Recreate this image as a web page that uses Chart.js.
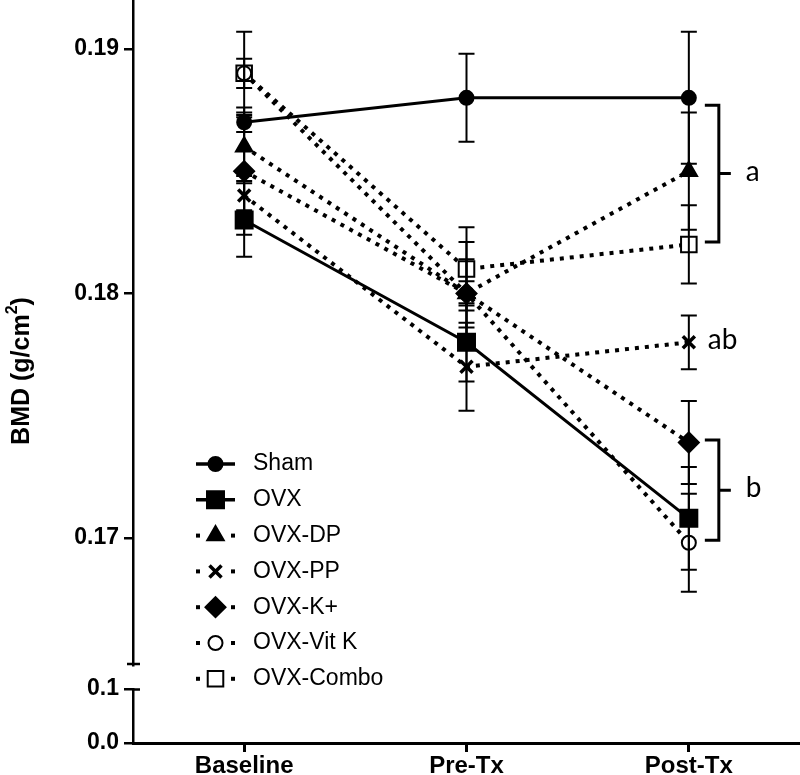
<!DOCTYPE html>
<html><head><meta charset="utf-8">
<script src="https://cdn.jsdelivr.net/npm/chart.js@4.4.1/dist/chart.umd.min.js"></script>
<style>html,body{margin:0;padding:0;background:#fff;}canvas{display:block;}</style>
</head><body>
<canvas id="c" width="800" height="775"></canvas>
<script>
// ---- data ----
const categories = ['Baseline', 'Pre-Tx', 'Post-Tx'];
const seriesNames = ['Sham', 'OVX', 'OVX-DP', 'OVX-PP', 'OVX-K+', 'OVX-Vit K', 'OVX-Combo'];
const shamValues  = [0.187, 0.188, 0.188];   const shamErrors  = [0.0004, 0.0018, 0.0027];
const ovxValues   = [0.183, 0.178, 0.1708];  const ovxErrors   = [0.0015, 0.0016, 0.0021];
const dpValues    = [0.186, 0.180, 0.185];   const dpErrors    = [0.0012, 0.0021, 0.0024];
const ppValues    = [0.184, 0.177, 0.178];   const ppErrors    = [0.0006, 0.0018, 0.0011];
const kValues     = [0.185, 0.180, 0.1739];  const kErrors     = [0.0026, 0.0014, 0.0017];
const vitkValues  = [0.189, 0.180, 0.1698];  const vitkErrors  = [0.0006, 0.0005, 0.0020];
const comboValues = [0.189, 0.181, 0.182];   const comboErrors = [0.0017, 0.0017, 0.0016];
const upperTicks = [0.17, 0.18, 0.19];
const lowerTicks = [0.0, 0.1];
const upperRange = [0.1648, 0.192];
const lowerRange = [0.0, 0.1];
const groupLetters = ['a', 'ab', 'b'];
const groupTop     = [0.1877, 0.178, 0.1740];
const groupBottom  = [0.1821, 0.178, 0.1699];

// ---- styles ----
const solid = [];
const dotted = [4, 6];
const styles = [
  {pointStyle: 'circle', radius: 7, fill: '#000', dash: solid},
  {pointStyle: 'rect', radius: 12, fill: '#000', dash: solid},
  {pointStyle: 'triangle', radius: 9.5, fill: '#000', dash: dotted},
  {pointStyle: 'crossRot', radius: 8.5, fill: '#000', dash: dotted, bw: 3.5},
  {pointStyle: 'rectRot', radius: 10, fill: '#000', dash: dotted},
  {pointStyle: 'circle', radius: 7, fill: '#fff', dash: dotted},
  {pointStyle: 'rect', radius: 11, fill: '#fff', dash: dotted}
];
const valueSets = [shamValues, ovxValues, dpValues, ppValues, kValues, vitkValues, comboValues];
const errorSets = [shamErrors, ovxErrors, dpErrors, ppErrors, kErrors, vitkErrors, comboErrors];

const datasets = seriesNames.map((name, i) => ({
  label: name,
  data: valueSets[i],
  errors: errorSets[i],
  yAxisID: 'y',
  borderColor: '#000',
  borderWidth: styles[i].dash.length ? 4 : 3,
  borderDash: styles[i].dash,
  borderCapStyle: 'butt',
  tension: 0,
  pointStyle: styles[i].pointStyle,
  pointRadius: styles[i].radius,
  pointHoverRadius: styles[i].radius,
  pointBackgroundColor: styles[i].fill,
  pointBorderColor: '#000',
  pointBorderWidth: styles[i].bw || 2,
  fill: false,
  clip: false
}));

const errorBarPlugin = {
  id: 'errorBars',
  afterDatasetsDraw(chart) {
    const ctx = chart.ctx, ys = chart.scales.y;
    ctx.save();
    ctx.strokeStyle = '#000';
    ctx.lineWidth = 2;
    chart.data.datasets.forEach((ds, di) => {
      const meta = chart.getDatasetMeta(di);
      ds.data.forEach((v, i) => {
        const px = meta.data[i].x;
        const t = ys.getPixelForValue(v + ds.errors[i]);
        const b = ys.getPixelForValue(v - ds.errors[i]);
        ctx.beginPath();
        ctx.moveTo(px, t); ctx.lineTo(px, b);
        ctx.moveTo(px - 8, t); ctx.lineTo(px + 8, t);
        ctx.moveTo(px - 8, b); ctx.lineTo(px + 8, b);
        ctx.stroke();
      });
    });
    ctx.restore();
  }
};

const annotPlugin = {
  id: 'annot',
  afterDraw(chart) {
    const ctx = chart.ctx, ys = chart.scales.y, yl = chart.scales.yLow, xs = chart.scales.x;
    ctx.save();
    ctx.strokeStyle = '#000'; ctx.fillStyle = '#000';
    // axis break marks
    const ax = ys.right;
    ctx.lineWidth = 2.5;
    ctx.beginPath();
    ctx.moveTo(ax - 6, ys.bottom - 1); ctx.lineTo(ax + 7, ys.bottom - 1);
    ctx.moveTo(ax, yl.top + 0.5); ctx.lineTo(ax + 7, yl.top + 0.5);
    ctx.stroke();
    // group brackets + letters
    const px = xs.getPixelForValue(2);
    ctx.lineWidth = 3;
    ctx.font = '28px Lato, "Open Sans", sans-serif';
    ctx.textBaseline = 'middle';
    ctx.textAlign = 'left';
    groupLetters.forEach((g, i) => {
      const t = ys.getPixelForValue(groupTop[i]);
      const b = ys.getPixelForValue(groupBottom[i]);
      const m = (t + b) / 2;
      if (groupTop[i] !== groupBottom[i]) {
        ctx.beginPath();
        ctx.moveTo(px + 16, t); ctx.lineTo(px + 30, t); ctx.lineTo(px + 30, b); ctx.lineTo(px + 16, b);
        ctx.moveTo(px + 30, m); ctx.lineTo(px + 42, m);
        ctx.stroke();
        ctx.fillText(g, px + 57, m - 2);
      } else {
        ctx.fillText(g, px + 19, m - 2);
      }
    });
    // legend
    ctx.font = '23px "Liberation Sans", Arial, sans-serif';
    chart.data.datasets.forEach((ds, i) => {
      const yy = 464 + i * 35.8;
      const st = styles[i];
      ctx.fillStyle = '#000';
      if (st.dash.length) {
        ctx.fillRect(196, yy - 2, 4, 4);
        ctx.fillRect(231, yy - 2, 4, 4);
      } else {
        ctx.lineWidth = 3.5;
        ctx.beginPath(); ctx.moveTo(196, yy); ctx.lineTo(235, yy); ctx.stroke();
      }
      ctx.fillStyle = st.fill;
      ctx.strokeStyle = '#000';
      ctx.lineWidth = st.bw || 2;
      Chart.helpers.drawPoint(ctx, {pointStyle: st.pointStyle, radius: st.radius, rotation: 0, borderWidth: st.bw || 2}, 215.5, yy);
      ctx.fillStyle = '#000';
      ctx.fillText(ds.label, 253, yy);
    });
    // y axis title
    ctx.save();
    ctx.translate(20, 371);
    ctx.rotate(-Math.PI / 2);
    const f1 = 'bold 25px "Liberation Sans", Arial, sans-serif';
    const f2 = 'bold 16px "Liberation Sans", Arial, sans-serif';
    const p1 = 'BMD (g/cm', p2 = '2', p3 = ')';
    ctx.font = f1; const w1 = ctx.measureText(p1).width, w3 = ctx.measureText(p3).width;
    ctx.font = f2; const w2 = ctx.measureText(p2).width;
    let sx = -(w1 + w2 + w3) / 2;
    ctx.textAlign = 'left'; ctx.textBaseline = 'alphabetic';
    ctx.font = f1; ctx.fillText(p1, sx, 9); sx += w1;
    ctx.font = f2; ctx.fillText(p2, sx, -3); sx += w2;
    ctx.font = f1; ctx.fillText(p3, sx, 9);
    ctx.restore();
    ctx.restore();
  }
};

const tickFont = {family: '"Liberation Sans", Arial, sans-serif', size: 23, weight: 'bold'};
const fixW = s => { s.width = 133; s.paddingTop = 0; s.paddingBottom = 0; };

new Chart(document.getElementById('c'), {
  type: 'line',
  data: {labels: categories, datasets},
  options: {
    responsive: false,
    animation: false,
    devicePixelRatio: 1,
    events: [],
    layout: {padding: 0, autoPadding: false},
    plugins: {legend: {display: false}, tooltip: {enabled: false}},
    scales: {
      x: {
        type: 'category',
        offset: true,
        grid: {display: true, drawOnChartArea: false, offset: false, tickLength: 9, lineWidth: 3, color: '#000'},
        border: {display: true, color: '#000', width: 3},
        ticks: {color: '#000', font: {family: '"Liberation Sans", Arial, sans-serif', size: 24, weight: 'bold'}, padding: 0, maxRotation: 0, autoSkip: false},
        afterFit: s => { s.height = 32; s.paddingLeft = 0; s.paddingRight = 0; }
      },
      y: {
        type: 'linear', position: 'left', stack: 'brk', stackWeight: 665, weight: 3,
        min: upperRange[0], max: upperRange[1],
        afterBuildTicks: s => { s.ticks = upperTicks.map(v => ({value: v})); },
        grid: {display: true, drawOnChartArea: false, tickLength: 9, lineWidth: 2.5, color: '#000'},
        border: {display: true, color: '#000', width: 2.5},
        ticks: {color: '#000', font: tickFont, padding: 5, autoSkip: false, callback: v => v.toFixed(2)},
        afterFit: fixW
      },
      yGap: {
        type: 'linear', position: 'left', stack: 'brk', stackWeight: 24, weight: 2,
        min: 0, max: 1,
        grid: {display: false}, border: {display: false}, ticks: {display: false},
        afterFit: fixW
      },
      yLow: {
        type: 'linear', position: 'left', stack: 'brk', stackWeight: 54, weight: 1,
        min: lowerRange[0], max: lowerRange[1],
        afterBuildTicks: s => { s.ticks = lowerTicks.map(v => ({value: v})); },
        grid: {display: true, drawOnChartArea: false, tickLength: 9, lineWidth: 2.5, color: '#000'},
        border: {display: true, color: '#000', width: 2.5},
        ticks: {color: '#000', font: tickFont, padding: 5, autoSkip: false, callback: v => v.toFixed(1)},
        afterFit: fixW
      }
    }
  },
  plugins: [errorBarPlugin, annotPlugin]
});
</script>
</body></html>
